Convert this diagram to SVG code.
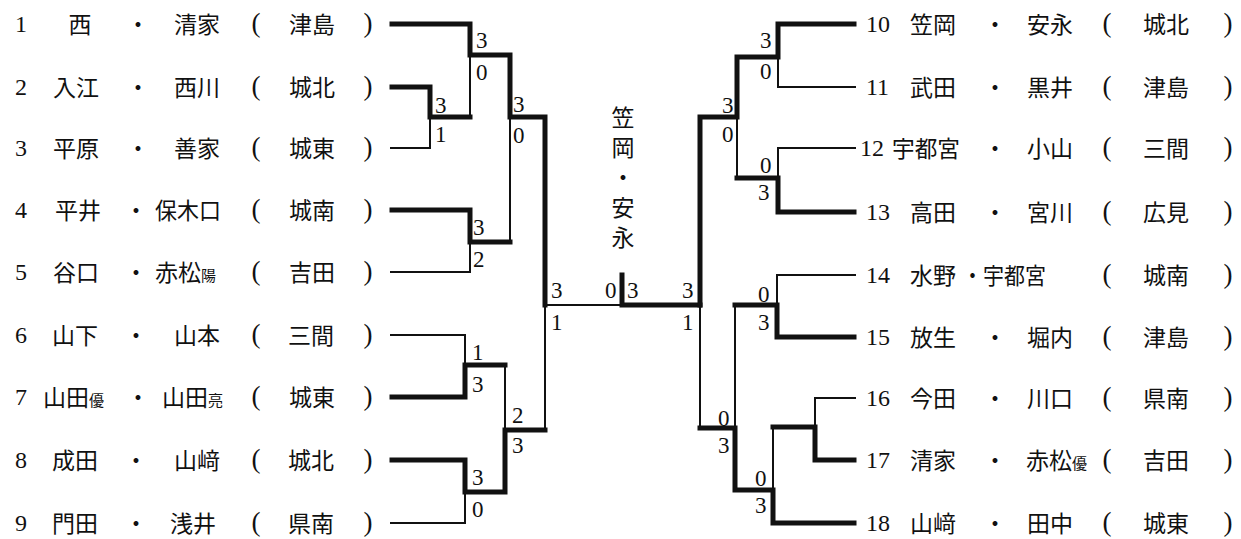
<svg xmlns="http://www.w3.org/2000/svg" width="1241" height="539" viewBox="0 0 1241 539">
<style>
.n{font-family:"Liberation Serif",serif;font-size:24px;fill:#111}
.j{font-family:"Noto Sans CJK JP","Noto Sans CJK SC",sans-serif;font-size:23px;fill:#111}
.p{font-family:"Liberation Serif",serif;font-size:27px;fill:#111;text-anchor:middle}
.m{text-anchor:middle}
.sm{font-size:15px}
.s{font-family:"Liberation Serif",serif;font-size:23px;fill:#111}
.v{writing-mode:vertical-rl;letter-spacing:7px}
.thin{fill:none;stroke:#111;stroke-width:2}
.thick{fill:none;stroke:#111;stroke-width:5;stroke-linecap:square;stroke-linejoin:miter}
</style>
<rect width="1241" height="539" fill="#fff"/>
<g id="connectors">
<g class="thin">
<path d="M390,148H430V117"/>
<path d="M470,55V117"/>
<path d="M390,272H470V242"/>
<path d="M510,117V242"/>
<path d="M390,335H465V365"/>
<path d="M390,523H465V492"/>
<path d="M505,365V430"/>
<path d="M545,305V430"/>
<path d="M545,305H620"/>
<path d="M856,87H778V57"/>
<path d="M856,148H778V178"/>
<path d="M737,117V178"/>
<path d="M856,275H777V305"/>
<path d="M735,305V428"/>
<path d="M700,305V428"/>
<path d="M856,398H815V427"/>
<path d="M773,427V490"/>
</g>
<g class="thick">
<path d="M392,24H470V55H510V117H545V305"/>
<path d="M392,87H430V117H470"/>
<path d="M392,210H470V242H510"/>
<path d="M392,397H465V365H505"/>
<path d="M392,460H465V492H505V430H545"/>
<path d="M622,275V305H700"/>
<path d="M854,24H778V57H737V117H700V305"/>
<path d="M854,212H778V178H737"/>
<path d="M854,337H777V305H735"/>
<path d="M854,460H815V427H773"/>
<path d="M854,523H773V490H735V428H700"/>
</g>
</g>
<g id="scores" class="s">
<text x="476" y="48">3</text><text x="476" y="80">0</text>
<text x="435" y="113">3</text><text x="435" y="142">1</text>
<text x="513" y="112">3</text><text x="513" y="143">0</text>
<text x="473" y="235">3</text><text x="473" y="267">2</text>
<text x="472" y="360">1</text><text x="472" y="392">3</text>
<text x="512" y="423">2</text><text x="512" y="453">3</text>
<text x="472" y="485">3</text><text x="472" y="517">0</text>
<text x="551" y="298">3</text><text x="551" y="330">1</text>
<text x="605" y="298">0</text><text x="627" y="298">3</text>
<text x="682" y="298">3</text><text x="682" y="330">1</text>
<text x="760" y="48">3</text><text x="760" y="79">0</text>
<text x="722" y="113">3</text><text x="722" y="142">0</text>
<text x="760" y="173">0</text><text x="758" y="200">3</text>
<text x="758" y="302">0</text><text x="758" y="330">3</text>
<text x="718" y="426">0</text><text x="718" y="453">3</text>
<text x="755" y="486">0</text><text x="755" y="513">3</text>
</g>
<g id="champion">
<text class="j v" x="623" y="106">笠岡・安永</text>
</g>
<g id="p1"><text class="n" x="15" y="32">1</text><text class="j m" x="80" y="33">西</text><text class="j m" x="138" y="33">・</text><text class="j m" x="197" y="33">清家</text><text class="p" x="256" y="32">(</text><text class="j m" x="312" y="33">津島</text><text class="p" x="368" y="32">)</text></g>
<g id="p2"><text class="n" x="15" y="95">2</text><text class="j m" x="76" y="96">入江</text><text class="j m" x="138" y="96">・</text><text class="j m" x="197" y="96">西川</text><text class="p" x="256" y="95">(</text><text class="j m" x="312" y="96">城北</text><text class="p" x="368" y="95">)</text></g>
<g id="p3"><text class="n" x="15" y="156">3</text><text class="j m" x="76" y="157">平原</text><text class="j m" x="138" y="157">・</text><text class="j m" x="197" y="157">善家</text><text class="p" x="256" y="156">(</text><text class="j m" x="312" y="157">城東</text><text class="p" x="368" y="156">)</text></g>
<g id="p4"><text class="n" x="15" y="218">4</text><text class="j m" x="78" y="219">平井</text><text class="j m" x="136" y="219">・</text><text class="j m" x="188" y="219" textLength="66" lengthAdjust="spacingAndGlyphs">保木口</text><text class="p" x="256" y="218">(</text><text class="j m" x="312" y="219">城南</text><text class="p" x="368" y="218">)</text></g>
<g id="p5"><text class="n" x="15" y="280">5</text><text class="j m" x="76" y="281">谷口</text><text class="j m" x="136" y="281">・</text><text class="j" x="155" y="281">赤松<tspan class="sm">陽</tspan></text><text class="p" x="256" y="280">(</text><text class="j m" x="312" y="281">吉田</text><text class="p" x="368" y="280">)</text></g>
<g id="p6"><text class="n" x="15" y="343">6</text><text class="j m" x="75" y="344">山下</text><text class="j m" x="136" y="344">・</text><text class="j m" x="197" y="344">山本</text><text class="p" x="256" y="343">(</text><text class="j m" x="311" y="344">三間</text><text class="p" x="368" y="343">)</text></g>
<g id="p7"><text class="n" x="15" y="405">7</text><text class="j" x="43" y="406">山田<tspan class="sm">優</tspan></text><text class="j m" x="138" y="406">・</text><text class="j" x="162" y="406">山田<tspan class="sm">亮</tspan></text><text class="p" x="256" y="405">(</text><text class="j m" x="312" y="406">城東</text><text class="p" x="368" y="405">)</text></g>
<g id="p8"><text class="n" x="15" y="468">8</text><text class="j m" x="75" y="469">成田</text><text class="j m" x="136" y="469">・</text><text class="j m" x="197" y="469">山﨑</text><text class="p" x="256" y="468">(</text><text class="j m" x="311" y="469">城北</text><text class="p" x="368" y="468">)</text></g>
<g id="p9"><text class="n" x="15" y="531">9</text><text class="j m" x="75" y="532">門田</text><text class="j m" x="136" y="532">・</text><text class="j m" x="193" y="532">浅井</text><text class="p" x="256" y="531">(</text><text class="j m" x="311" y="532">県南</text><text class="p" x="368" y="531">)</text></g>
<g id="p10"><text class="n" x="866" y="32">10</text><text class="j m" x="933" y="33">笠岡</text><text class="j m" x="995" y="33">・</text><text class="j m" x="1050" y="33">安永</text><text class="p" x="1107" y="32">(</text><text class="j m" x="1166" y="33">城北</text><text class="p" x="1228" y="32">)</text></g>
<g id="p11"><text class="n" x="866" y="95">11</text><text class="j m" x="933" y="96">武田</text><text class="j m" x="995" y="96">・</text><text class="j m" x="1050" y="96">黒井</text><text class="p" x="1107" y="95">(</text><text class="j m" x="1166" y="96">津島</text><text class="p" x="1228" y="95">)</text></g>
<g id="p12"><text class="n" x="860" y="156">12</text><text class="j m" x="926" y="157" textLength="68" lengthAdjust="spacingAndGlyphs">宇都宮</text><text class="j m" x="995" y="157">・</text><text class="j m" x="1050" y="157">小山</text><text class="p" x="1107" y="156">(</text><text class="j m" x="1166" y="157">三間</text><text class="p" x="1228" y="156">)</text></g>
<g id="p13"><text class="n" x="866" y="220">13</text><text class="j m" x="933" y="221">高田</text><text class="j m" x="995" y="221">・</text><text class="j m" x="1050" y="221">宮川</text><text class="p" x="1107" y="220">(</text><text class="j m" x="1166" y="221">広見</text><text class="p" x="1228" y="220">)</text></g>
<g id="p14"><text class="n" x="866" y="283">14</text><text class="j m" x="933" y="284">水野</text><text class="j" x="962" y="284" textLength="84" lengthAdjust="spacingAndGlyphs">・宇都宮</text><text class="p" x="1107" y="283">(</text><text class="j m" x="1166" y="284">城南</text><text class="p" x="1228" y="283">)</text></g>
<g id="p15"><text class="n" x="866" y="345">15</text><text class="j m" x="933" y="346">放生</text><text class="j m" x="995" y="346">・</text><text class="j m" x="1050" y="346">堀内</text><text class="p" x="1107" y="345">(</text><text class="j m" x="1166" y="346">津島</text><text class="p" x="1228" y="345">)</text></g>
<g id="p16"><text class="n" x="866" y="406">16</text><text class="j m" x="933" y="407">今田</text><text class="j m" x="995" y="407">・</text><text class="j m" x="1050" y="407">川口</text><text class="p" x="1107" y="406">(</text><text class="j m" x="1166" y="407">県南</text><text class="p" x="1228" y="406">)</text></g>
<g id="p17"><text class="n" x="866" y="468">17</text><text class="j m" x="933" y="469">清家</text><text class="j m" x="995" y="469">・</text><text class="j" x="1026" y="469">赤松<tspan class="sm">優</tspan></text><text class="p" x="1107" y="468">(</text><text class="j m" x="1166" y="469">吉田</text><text class="p" x="1228" y="468">)</text></g>
<g id="p18"><text class="n" x="866" y="531">18</text><text class="j m" x="933" y="532">山﨑</text><text class="j m" x="995" y="532">・</text><text class="j m" x="1050" y="532">田中</text><text class="p" x="1107" y="531">(</text><text class="j m" x="1166" y="532">城東</text><text class="p" x="1228" y="531">)</text></g>
</svg>
